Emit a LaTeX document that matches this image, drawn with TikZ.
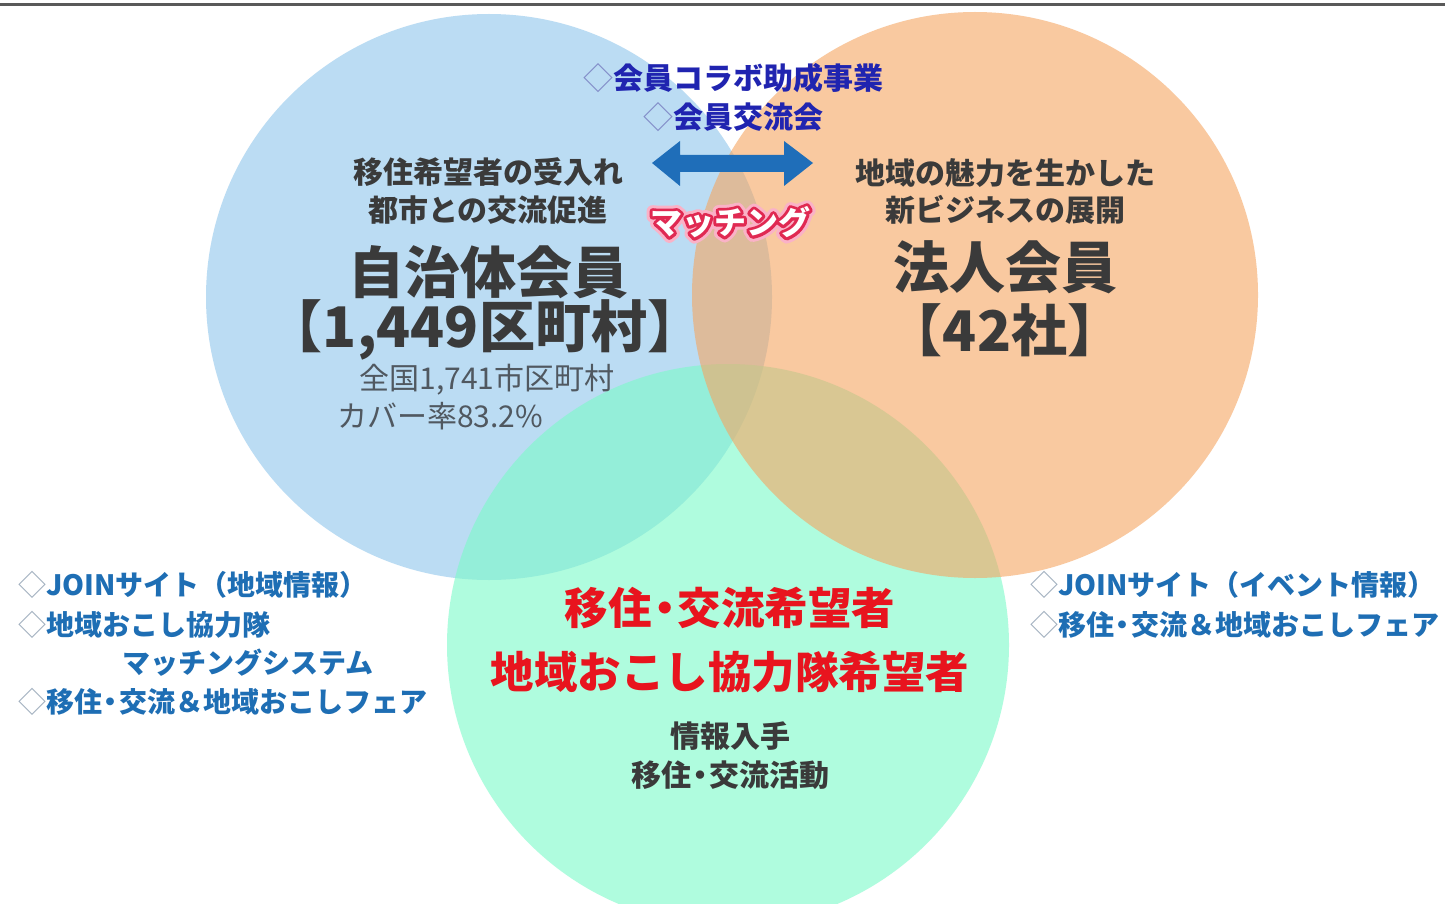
\documentclass[tikz,border=0pt]{standalone}
\usepackage{fontspec}
\setmainfont{Noto Sans CJK JP}
\definecolor{blueC}{RGB}{143,198,235}
\definecolor{orangeC}{RGB}{245,165,97}
\definecolor{greenC}{RGB}{123,250,200}
\definecolor{navyT}{RGB}{32,36,176}
\definecolor{diaT}{RGB}{130,140,200}
\definecolor{darkT}{RGB}{58,58,58}
\definecolor{grayT}{RGB}{80,88,96}
\definecolor{redT}{RGB}{232,20,30}
\definecolor{sideT}{RGB}{30,110,180}
\definecolor{sideDia}{RGB}{160,175,190}
\definecolor{arrowB}{RGB}{31,110,185}
\newcommand{\nd}{\kern-.2em・\kern-.2em}
\newcommand{\strokeon}[2]{\special{pdf:literal direct 1 Tr #1 w 1 j #2 RG}}
\newcommand{\strokeoff}{\special{pdf:literal direct 0 Tr}}
\begin{document}
\begin{tikzpicture}[x=1pt,y=-1pt,
  txt/.style={inner sep=0pt, anchor=center},
  topT/.style={txt, text=navyT, font=\fontsize{30}{34}\selectfont\bfseries},
  subT/.style={txt, text=darkT, font=\fontsize{30}{34}\selectfont\bfseries},
  bigT/.style={txt, text=darkT, font=\fontsize{56}{62}\selectfont\bfseries},
  noteT/.style={txt, text=grayT, font=\fontsize{30}{34}\selectfont},
  redLine/.style={txt, text=redT, font=\fontsize{43.5}{48}\selectfont\bfseries},
  sideL/.style={txt, anchor=west, text=sideT, font=\fontsize{28}{32}\selectfont\bfseries},
  matchT/.style={txt, font=\fontsize{32}{36}\selectfont\bfseries},
  venn/.style={fill opacity=0.6}
]
\useasboundingbox (0,0) rectangle (1445,904);
\fill[white] (0,0) rectangle (1445,904);
\begin{scope}
  \clip (0,0) rectangle (1445,904);
  \fill[blueC, venn] (489,297) circle[radius=283pt];
  \fill[greenC, venn] (728,645) circle[radius=281pt];
  \fill[orangeC, venn] (975,295) circle[radius=283pt];
\end{scope}
\draw[line width=3pt, black!65] (0,4.5) -- (1445,4.5);

% top texts
\node[topT] (collab) at (733,78) {\textcolor{diaT}{\mdseries ◇}会員コラボ助成事業};
\node[topT] (koryu) at (733,117) {\textcolor{diaT}{\mdseries ◇}会員交流会};

% double arrow
\fill[arrowB] (652,163) -- (680,141) -- (680,155) -- (784,155) -- (784,141)
  -- (813,163) -- (784,186) -- (784,172) -- (680,172) -- (680,186) -- cycle;

% matching label: outlined glow + white text
\node[matchT, text=white] (mglowO) at (730,222) {\strokeon{12}{0.98 0.70 0.78}マッチング\strokeoff};
\node[matchT, text=white] (mglowI) at (730,222) {\strokeon{6}{0.88 0.16 0.32}マッチング\strokeoff};
\node[matchT, text=white] (match) at (730,222) {マッチング};

% left circle
\node[subT] (l1) at (488,172) {移住希望者の受入れ};
\node[subT] (l2) at (488,210) {都市との交流促進};
\node[bigT] (l3) at (488,272) {自治体会員};
\node[bigT] (l4) at (485,330) {【1,449区町村】};
\node[noteT] (l5) at (487,380) {全国1,741市区町村};
\node[noteT, anchor=west] (l6) at (337,416) {カバー率83.2\%};

% right circle
\node[subT] (r1) at (1005,173) {地域の魅力を生かした};
\node[subT] (r2) at (1005,210) {新ビジネスの展開};
\node[bigT] (r3) at (1005,267) {法人会員};
\node[bigT] (r4) at (1005,330) {【42社】};

% bottom circle
\node[redLine] (b1) at (730,608) {移住\nd 交流希望者};
\node[redLine] (b2) at (730,672) {地域おこし協力隊希望者};
\node[subT] (b3) at (730,736) {情報入手};
\node[subT] (b4) at (730,775) {移住\nd 交流活動};

% left side list
\node[sideL] (s1) at (18,585) {\textcolor{sideDia}{\mdseries ◇}JOINサイト（地域情報）};
\node[sideL] (s2) at (18,625) {\textcolor{sideDia}{\mdseries ◇}地域おこし協力隊};
\node[sideL] (s3) at (122,663) {マッチングシステム};
\node[sideL] (s4) at (18,702) {\textcolor{sideDia}{\mdseries ◇}移住\nd 交流＆地域おこしフェア};

% right side list
\node[sideL] (t1) at (1030,585) {\textcolor{sideDia}{\mdseries ◇}JOINサイト（イベント情報）};
\node[sideL] (t2) at (1030,625) {\textcolor{sideDia}{\mdseries ◇}移住\nd 交流＆地域おこしフェア};
\end{tikzpicture}
\end{document}
